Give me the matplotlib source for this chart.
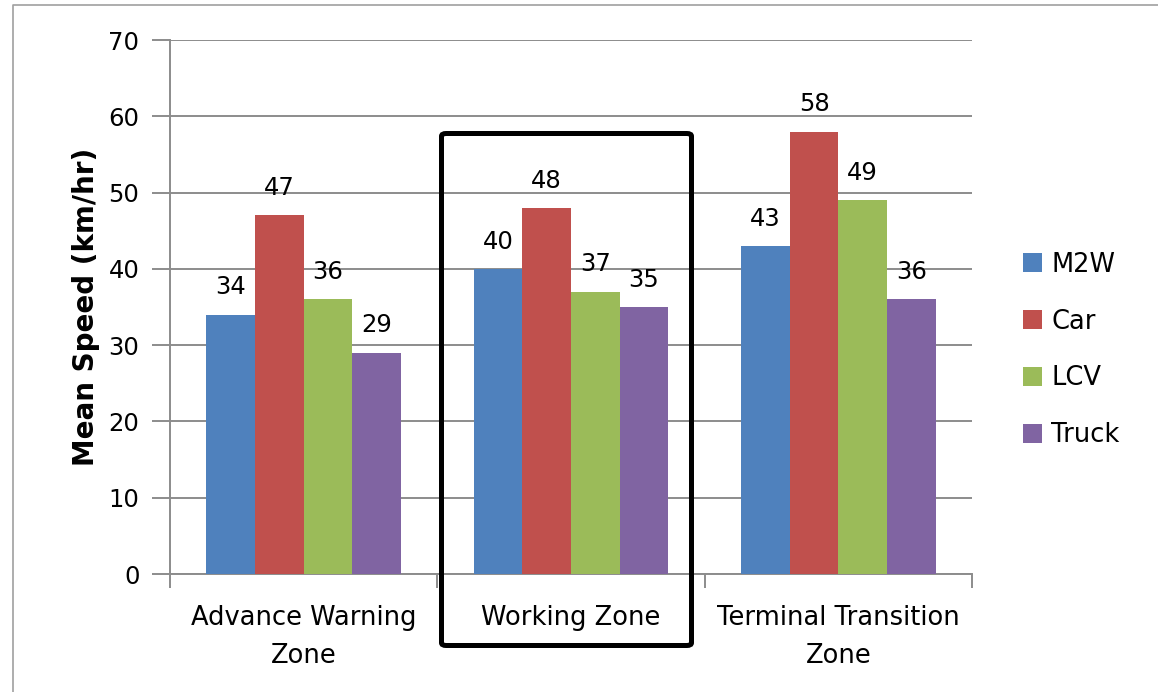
import matplotlib.pyplot as plt
import numpy as np
from matplotlib.lines import Line2D
from matplotlib.patches import FancyBboxPatch

zones = ["Advance Warning\nZone", "Working Zone", "Terminal Transition\nZone"]
vehicles = ["M2W", "Car", "LCV", "Truck"]
colors = ["#4F81BD", "#C0504D", "#9BBB59", "#8064A2"]

m2w = [34, 40, 43]
car = [47, 48, 58]
lcv = [36, 37, 49]
truck = [29, 35, 36]
speeds = [m2w, car, lcv, truck]

plt.rcParams["font.family"] = "DejaVu Sans"
grid_col = "#8c8c8c"

W, H = 1158, 692
fig = plt.figure(figsize=(W / 100, H / 100), dpi=100)
ax = fig.add_axes([170 / W, 1 - 574 / H, 802 / W, 534 / H])

# excel-style clustered bars, gap width 150%
x = np.arange(len(zones))
bw = 1 / 5.5
for i, (vals, name, c) in enumerate(zip(speeds, vehicles, colors)):
    bars = ax.bar(x + (i - 1.5) * bw, vals, bw, color=c, label=name, zorder=3)
    ax.bar_label(bars, padding=11, fontsize=17.5)

ax.set_xlim(-0.5, len(zones) - 0.5)
ax.set_ylim(0, 70)
ax.set_yticks(range(0, 71, 10))
ax.yaxis.grid(True, color=grid_col, lw=1.4, zorder=0)
ax.tick_params(axis="y", length=13, width=1.4, color=grid_col,
               labelsize=17.5, pad=9)

# ticks between the categories, labels under the centres
ax.set_xticks(np.arange(-0.5, len(zones), 1.0))
ax.set_xticklabels([])
ax.tick_params(axis="x", which="major", length=10, width=1.4, color=grid_col)
ax.set_xticks(x, minor=True)
ax.set_xticklabels(zones, minor=True, fontsize=18.5, linespacing=1.62)
ax.tick_params(axis="x", which="minor", length=0, pad=22)

for s in ("top", "right"):
    ax.spines[s].set_visible(False)
for s in ("left", "bottom"):
    ax.spines[s].set_color(grid_col)
    ax.spines[s].set_linewidth(1.4)

ax.set_ylabel("Mean Speed (km/hr)", fontsize=20, fontweight="bold", labelpad=6)

fig.legend(loc="center left", bbox_to_anchor=(1023 / W, 1 - 350 / H),
           frameon=False, fontsize=18.5, handlelength=0.75, handleheight=0.75,
           handletextpad=0.35, labelspacing=1.2, borderpad=0, borderaxespad=0)

# outer chart border (left and top edges only fall inside the image)
bx, by = 13 / W, 1 - 5 / H
fig.add_artist(Line2D([bx, bx, 1.0], [0.0, by, by], transform=fig.transFigure,
                      color="#a0a0a0", lw=1.2))

# box around the working zone group
x0, x1 = 441.5 / W, 691.5 / W
y0, y1 = 1 - 645.5 / H, 1 - 133.5 / H
fig.patches.append(FancyBboxPatch((x0, y0), x1 - x0, y1 - y0,
                                  boxstyle="round,pad=0,rounding_size=0.004",
                                  transform=fig.transFigure, fill=False,
                                  ec="black", lw=3.6, zorder=5))

fig.savefig("out.png", dpi=100)
